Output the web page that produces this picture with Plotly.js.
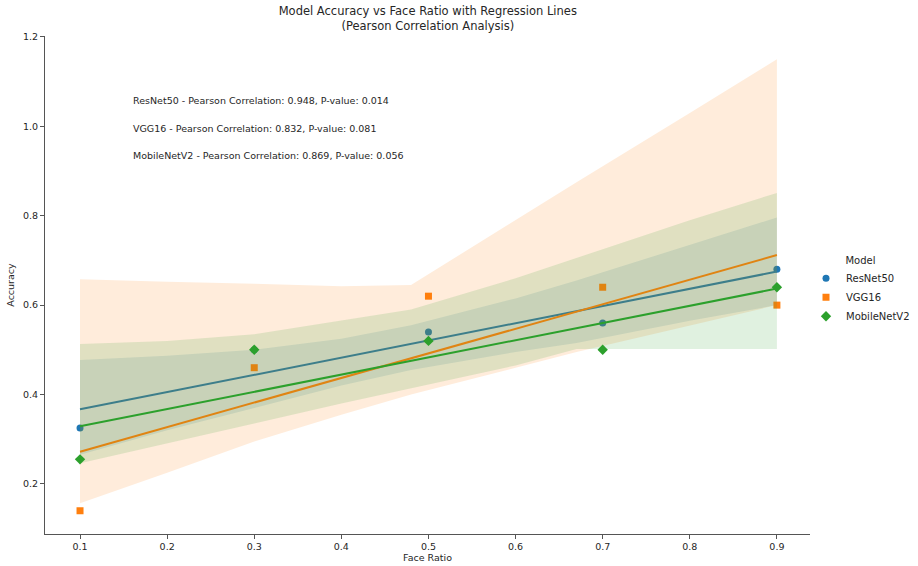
<!DOCTYPE html>
<html>
<head>
<meta charset="utf-8">
<script src="https://cdn.plot.ly/plotly-3.0.1.min.js"></script>
<style>html,body{margin:0;padding:0;background:#fff}#chart{width:918px;height:566px}</style>
</head>
<body>
<div id="chart"></div>
<script>
// ---- data ----
const MODELS = ["ResNet50", "VGG16", "MobileNetV2"];
const FACE_RATIO = [0.1, 0.3, 0.5, 0.7, 0.9];
const ACC_RESNET50 = [0.325, 0.50, 0.54, 0.56, 0.68];
const ACC_VGG16 = [0.14, 0.46, 0.62, 0.64, 0.60];
const ACC_MOBILENETV2 = [0.255, 0.50, 0.52, 0.50, 0.64];

// bootstrap confidence bands
const BAND_X = [0.1, 0.2, 0.3, 0.4, 0.48, 0.6, 0.67, 0.8, 0.9];
const RESNET50_UPPER = [0.477, 0.487, 0.50, 0.525, 0.555, 0.615, 0.655, 0.735, 0.796];
const RESNET50_LOWER = [0.265, 0.32, 0.37, 0.42, 0.455, 0.495, 0.515, 0.565, 0.60];
const VGG16_UPPER = [0.658, 0.652, 0.648, 0.642, 0.645, 0.79, 0.875, 1.03, 1.15];
const VGG16_LOWER = [0.157, 0.225, 0.295, 0.355, 0.40, 0.46, 0.495, 0.555, 0.60];
const MOBILENETV2_UPPER = [0.513, 0.52, 0.535, 0.565, 0.59, 0.66, 0.705, 0.79, 0.851];
const MOBILENETV2_LOWER = [0.246, 0.29, 0.335, 0.38, 0.415, 0.465, 0.502, 0.502, 0.502];

const STATS_TEXT = [
  "ResNet50 - Pearson Correlation: 0.948, P-value: 0.014",
  "VGG16 - Pearson Correlation: 0.832, P-value: 0.081",
  "MobileNetV2 - Pearson Correlation: 0.869, P-value: 0.056"
];
const X_TICKS = [0.1, 0.2, 0.3, 0.4, 0.5, 0.6, 0.7, 0.8, 0.9];
const Y_TICKS = [0.2, 0.4, 0.6, 0.8, 1.0, 1.2];

// ---- styling ----
const COLORS = ["#1f77b4", "#ff7f0e", "#2ca02c"];
const FILLS = ["rgba(31,119,180,0.15)", "rgba(255,127,14,0.15)", "rgba(44,160,44,0.15)"];
const SYMBOLS = ["circle", "square", "diamond"];
const SERIES = [ACC_RESNET50, ACC_VGG16, ACC_MOBILENETV2];
const UPPERS = [RESNET50_UPPER, VGG16_UPPER, MOBILENETV2_UPPER];
const LOWERS = [RESNET50_LOWER, VGG16_LOWER, MOBILENETV2_LOWER];

function fit(xs, ys) {
  const n = xs.length;
  const mx = xs.reduce((a, b) => a + b, 0) / n;
  const my = ys.reduce((a, b) => a + b, 0) / n;
  let sxy = 0, sxx = 0;
  for (let i = 0; i < n; i++) { sxy += (xs[i] - mx) * (ys[i] - my); sxx += (xs[i] - mx) ** 2; }
  const b = sxy / sxx;
  return { a: my - b * mx, b: b };
}

const traces = [];
MODELS.forEach((m, i) => {
  traces.push({
    x: FACE_RATIO, y: SERIES[i], type: "scatter", mode: "markers", name: m,
    legendgroup: m, showlegend: true,
    marker: { color: COLORS[i], symbol: SYMBOLS[i], size: i === 2 ? 8 : 7, line: { width: 0 } },
    hoverinfo: "x+y"
  });
  traces.push({
    x: BAND_X.concat(BAND_X.slice().reverse()),
    y: UPPERS[i].concat(LOWERS[i].slice().reverse()),
    type: "scatter", mode: "lines", fill: "toself", fillcolor: FILLS[i],
    line: { width: 0, color: "rgba(0,0,0,0)" }, legendgroup: m, showlegend: false, hoverinfo: "skip"
  });
  const f = fit(FACE_RATIO, SERIES[i]);
  const x0 = FACE_RATIO[0], x1 = FACE_RATIO[FACE_RATIO.length - 1];
  traces.push({
    x: [x0, x1], y: [f.a + f.b * x0, f.a + f.b * x1],
    type: "scatter", mode: "lines", line: { color: COLORS[i], width: 2 },
    legendgroup: m, showlegend: false, hoverinfo: "skip"
  });
});

const ANN_Y = [1.057, 0.995, 0.934];
const annotations = STATS_TEXT.map((t, i) => ({
  x: 0.159, y: ANN_Y[i], xref: "x", yref: "y", text: t, showarrow: false,
  xanchor: "left", yanchor: "middle", font: { size: 9.5, color: "#262626", family: "DejaVu Sans" }
}));

const layout = {
  width: 918, height: 566,
  margin: { l: 45, r: 108, t: 36, b: 32, autoexpand: false },
  paper_bgcolor: "#fff", plot_bgcolor: "#fff",
  font: { family: "DejaVu Sans", size: 10, color: "#262626" },
  title: {
    text: "Model Accuracy vs Face Ratio with Regression Lines<br>(Pearson Correlation Analysis)",
    font: { size: 11.5, family: "DejaVu Sans", color: "#262626" },
    x: 0.466, xanchor: "center", y: 0.974, yanchor: "top"
  },
  xaxis: {
    range: [0.0598, 0.938], tickvals: X_TICKS, ticktext: X_TICKS.map(v => v.toFixed(1)),
    showgrid: false, zeroline: false, showline: true, linecolor: "#555", linewidth: 1,
    ticks: "outside", ticklen: 4, tickcolor: "#555", tickfont: { size: 9.5 },
    title: { text: "Face Ratio", font: { size: 9.5 }, standoff: 2 }
  },
  yaxis: {
    range: [0.088, 1.202], tickvals: Y_TICKS, ticktext: Y_TICKS.map(v => v.toFixed(1)),
    showgrid: false, zeroline: false, showline: true, linecolor: "#555", linewidth: 1,
    ticks: "outside", ticklen: 4, tickcolor: "#555", tickfont: { size: 9.5 },
    title: { text: "Accuracy", font: { size: 9.5 }, standoff: 6 }
  },
  legend: {
    xref: "container", yref: "container",
    x: 0.878, xanchor: "left", y: 0.557, yanchor: "top",
    title: { text: "Model", side: "top center", font: { size: 10 } },
    font: { size: 10 }, itemwidth: 30, tracegroupgap: 0, bgcolor: "rgba(0,0,0,0)"
  },
  annotations: annotations,
  showlegend: true
};

Plotly.newPlot("chart", traces, layout, { displayModeBar: false, staticPlot: true });
</script>
</body>
</html>
